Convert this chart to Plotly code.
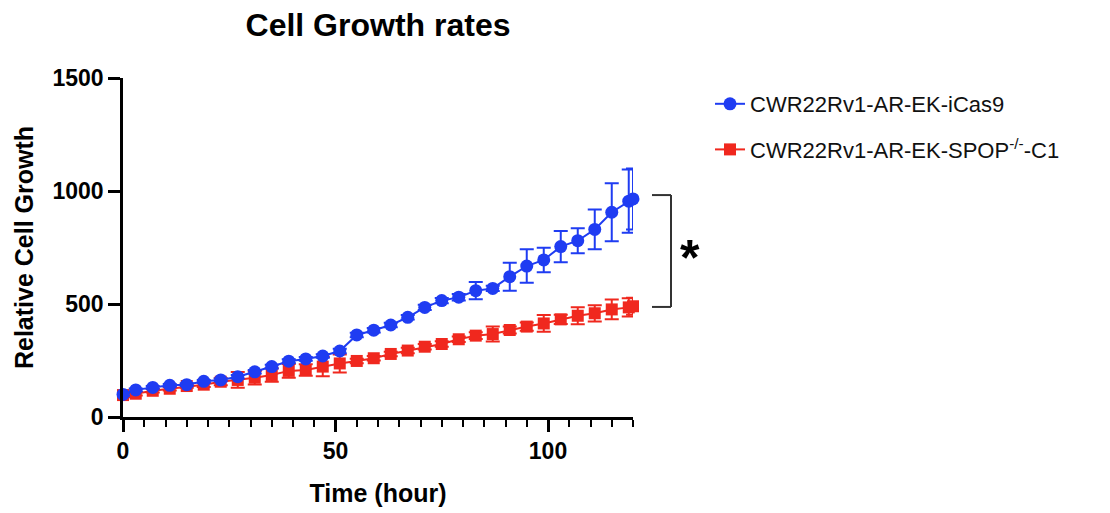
import plotly.graph_objects as go

# ---- data ----
time_h = [0, 3, 7, 11, 15, 19, 23, 27, 31, 35, 39, 43, 47, 51, 55, 59,
          63, 67, 71, 75, 79, 83, 87, 91, 95, 99, 103, 107, 111, 115, 119, 120]

icas9_mean = [100, 120, 131, 140, 143, 158, 164, 178, 200, 223, 247, 257, 270, 292, 363, 384,
              407, 441, 485, 515, 530, 559, 569, 621, 668, 695, 754, 780, 830, 906, 955, 965]
icas9_err = [6, 6, 6, 6, 6, 6, 6, 8, 8, 8, 8, 8, 8, 10, 10, 10,
             10, 10, 12, 12, 14, 38, 12, 62, 74, 54, 69, 55, 88, 128, 140, 135]

spop_mean = [97, 103, 116, 125, 137, 143, 156, 164, 174, 186, 204, 208, 223, 237, 248, 260,
             279, 294, 311, 323, 344, 360, 367, 385, 400, 414, 432, 448, 459, 476, 485, 490]
spop_err = [10, 8, 8, 8, 8, 10, 15, 35, 30, 30, 30, 25, 43, 40, 10, 10,
            10, 12, 12, 12, 12, 15, 33, 15, 18, 37, 20, 38, 36, 44, 40, 38]

series_names = ["CWR22Rv1-AR-EK-iCas9", "CWR22Rv1-AR-EK-SPOP<sup>-/-</sup>-C1"]
x_ticks = [0, 50, 100]
y_ticks = [0, 500, 1000, 1500]

BLUE = "#1f3cf2"
RED = "#f0281e"
FONT = "Liberation Sans, Arial, Helvetica, sans-serif"

# page has an 8px body margin; figure is sized to fit the window
W, H = 1102, 505
L, T, PW, PH = 115, 70, 510, 339

fig = go.Figure()

fig.add_trace(go.Scatter(
    x=time_h, y=spop_mean, name=series_names[1], mode="lines+markers",
    line=dict(color=RED, width=2),
    marker=dict(symbol="square", size=12, color=RED),
    error_y=dict(type="data", array=spop_err, color=RED, thickness=2, width=7),
    legendgroup="b", legendrank=2, cliponaxis=False,
))
fig.add_trace(go.Scatter(
    x=time_h, y=icas9_mean, name=series_names[0], mode="lines+markers",
    line=dict(color=BLUE, width=2),
    marker=dict(symbol="circle", size=13, color=BLUE),
    error_y=dict(type="data", array=icas9_err, color=BLUE, thickness=2, width=7),
    legendgroup="a", legendrank=1, cliponaxis=False,
))

# significance bracket (positions given in page pixels of the reference)
def paper_x(px):
    return (px - 8 - L) / PW

def paper_y(py):
    return (T + PH - (py - 8)) / PH

bx0, bx1 = paper_x(652), paper_x(671)
ytop, ybot = 982, 487
for (x0, y0, x1, y1) in [(bx0, ytop, bx1, ytop), (bx1, ytop, bx1, ybot), (bx0, ybot, bx1, ybot)]:
    fig.add_shape(type="line", xref="paper", yref="y", x0=x0, y0=y0, x1=x1, y1=y1,
                  line=dict(color="#333333", width=2))
fig.add_annotation(x=paper_x(702), y=(ytop + ybot) / 2, xref="paper", yref="y",
                   text="<b>*</b>", showarrow=False,
                   font=dict(family=FONT, size=50, color="black"), yshift=-7)

fig.update_layout(
    width=W, height=H,
    margin=dict(l=L, r=W - L - PW, t=T, b=H - T - PH, autoexpand=False),
    paper_bgcolor="white", plot_bgcolor="white",
    title=dict(text="Cell Growth rates", x=0.5, xref="paper", xanchor="center",
               y=1 - 17 / H, yanchor="middle",
               font=dict(family=FONT, size=32, color="black", weight="bold")),
    legend=dict(x=paper_x(710), y=paper_y(83), xanchor="left", yanchor="top",
                font=dict(family=FONT, size=22, color="#111111"),
                tracegroupgap=14, bgcolor="rgba(0,0,0,0)", itemwidth=30),
    showlegend=True,
)

fig.update_xaxes(
    range=[0, 120], tickvals=x_ticks, ticktext=[str(v) for v in x_ticks],
    showline=True, linecolor="black", linewidth=2.5,
    ticks="outside", ticklen=12, tickwidth=2.5, tickcolor="black",
    minor=dict(dtick=5, tick0=0, ticks="outside", ticklen=7, tickwidth=2, tickcolor="black", showgrid=False),
    showgrid=False, zeroline=False, automargin=False,
    tickfont=dict(family=FONT, size=23, color="black", weight="bold"),
    title=dict(text="Time (hour)", standoff=22,
               font=dict(family=FONT, size=25, color="black", weight="bold")),
)
fig.update_yaxes(
    range=[0, 1500], tickvals=y_ticks, ticktext=[str(v) for v in y_ticks],
    showline=True, linecolor="black", linewidth=2.5,
    ticks="outside", ticklen=12, tickwidth=2.5, tickcolor="black",
    showgrid=False, zeroline=False, automargin=False,
    tickfont=dict(family=FONT, size=23, color="black", weight="bold"),
    title=dict(text="Relative Cell Growth", standoff=12,
               font=dict(family=FONT, size=25, color="black", weight="bold")),
)

fig.write_html("out.html")
